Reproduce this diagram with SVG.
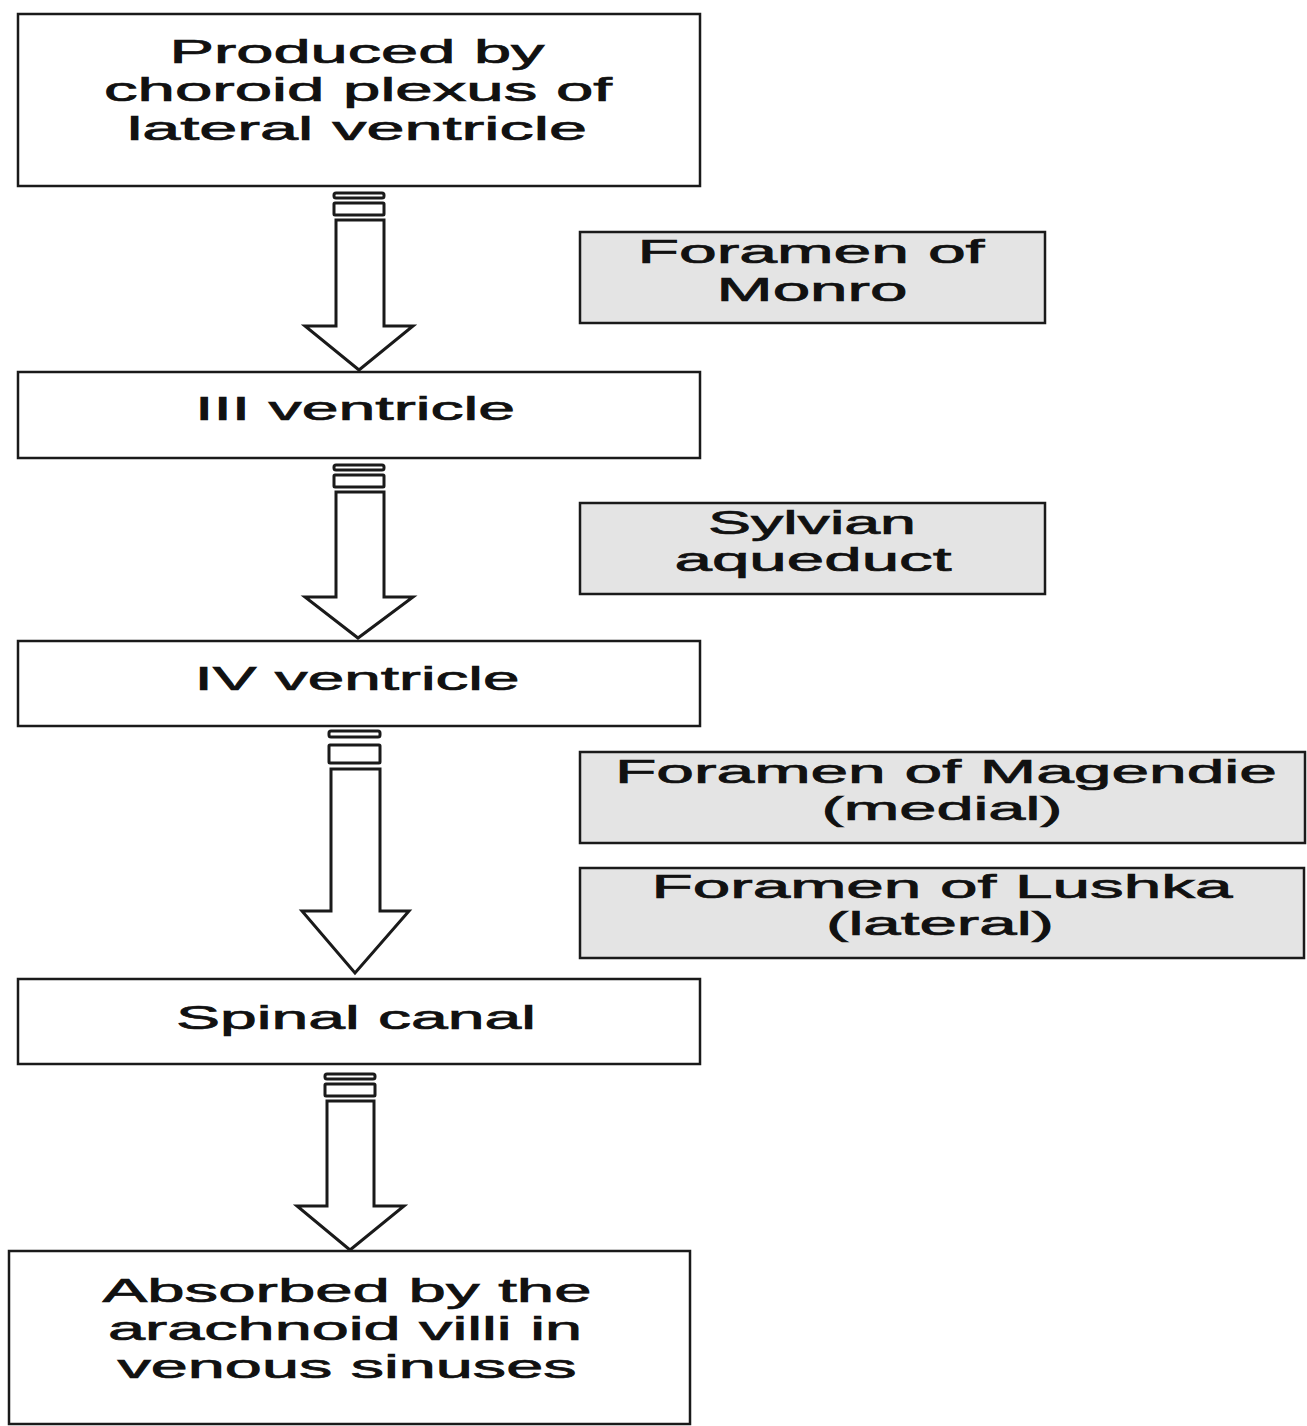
<svg xmlns="http://www.w3.org/2000/svg" width="1307" height="1426" viewBox="0 0 1307 1426">
<style>
.box{fill:#ffffff;stroke:#1a1a1a;stroke-width:2.5}
.gbox{fill:#e4e4e4;stroke:#1a1a1a;stroke-width:2.5}
.t{font-family:"Liberation Sans",Arial,sans-serif;font-size:33px;fill:#111;stroke:#111;stroke-width:0.7;text-anchor:middle}
.arr{fill:#ffffff;stroke:#1a1a1a;stroke-width:3;stroke-linejoin:miter}
.bar{fill:#ffffff;stroke:#1a1a1a;stroke-width:3}
</style>
<rect width="1307" height="1426" fill="#ffffff"/>
<g id="connectors">
  <g id="arrow1">
    <rect class="bar" x="334" y="193" width="50" height="5" rx="2"/>
    <rect class="bar" x="334" y="203" width="50" height="12" rx="1"/>
    <path class="arr" d="M336,220 H384 V326 H413 L359,370 L305,326 H336 Z"/>
  </g>
  <g id="arrow2">
    <rect class="bar" x="334" y="465" width="50" height="5" rx="2"/>
    <rect class="bar" x="334" y="475" width="50" height="12" rx="1"/>
    <path class="arr" d="M336,492 H384 V597 H413 L358,638 L305,597 H336 Z"/>
  </g>
  <g id="arrow3">
    <rect class="bar" x="329" y="731" width="51" height="6" rx="2"/>
    <rect class="bar" x="329" y="745" width="51" height="18" rx="1"/>
    <path class="arr" d="M331,769 H380 V911 H409 L355,973 L302,911 H331 Z"/>
  </g>
  <g id="arrow4">
    <rect class="bar" x="325" y="1074" width="50" height="5" rx="2"/>
    <rect class="bar" x="325" y="1084" width="50" height="12" rx="1"/>
    <path class="arr" d="M327,1101 H374 V1206 H404 L350,1250 L297,1206 H327 Z"/>
  </g>
</g>
<g id="n1">
  <rect class="box" x="18" y="14" width="682" height="172"/>
  <text class="t" x="357" y="63" textLength="375" lengthAdjust="spacingAndGlyphs">Produced by</text>
  <text class="t" x="358" y="101" textLength="508" lengthAdjust="spacingAndGlyphs">choroid plexus of</text>
  <text class="t" x="357" y="140" textLength="460" lengthAdjust="spacingAndGlyphs">lateral ventricle</text>
</g>
<g id="n2">
  <rect class="gbox" x="580" y="232" width="465" height="91"/>
  <text class="t" x="811" y="263" textLength="347" lengthAdjust="spacingAndGlyphs">Foramen of</text>
  <text class="t" x="812" y="301" textLength="191" lengthAdjust="spacingAndGlyphs">Monro</text>
</g>
<g id="n3">
  <rect class="box" x="18" y="372" width="682" height="86"/>
  <text class="t" x="355" y="420" textLength="320" lengthAdjust="spacingAndGlyphs">III ventricle</text>
</g>
<g id="n4">
  <rect class="gbox" x="580" y="503" width="465" height="91"/>
  <text class="t" x="812" y="534" textLength="208" lengthAdjust="spacingAndGlyphs">Sylvian</text>
  <text class="t" x="813" y="571" textLength="277" lengthAdjust="spacingAndGlyphs">aqueduct</text>
</g>
<g id="n5">
  <rect class="box" x="18" y="641" width="682" height="85"/>
  <text class="t" x="357" y="690" textLength="325" lengthAdjust="spacingAndGlyphs">IV ventricle</text>
</g>
<g id="n6">
  <rect class="gbox" x="580" y="752" width="725" height="91"/>
  <text class="t" x="946" y="783" textLength="662" lengthAdjust="spacingAndGlyphs">Foramen of Magendie</text>
  <text class="t" x="942" y="820" textLength="241" lengthAdjust="spacingAndGlyphs">(medial)</text>
</g>
<g id="n7">
  <rect class="gbox" x="580" y="868" width="724" height="90"/>
  <text class="t" x="942" y="898" textLength="581" lengthAdjust="spacingAndGlyphs">Foramen of Lushka</text>
  <text class="t" x="940" y="935" textLength="228" lengthAdjust="spacingAndGlyphs">(lateral)</text>
</g>
<g id="n8">
  <rect class="box" x="18" y="979" width="682" height="85"/>
  <text class="t" x="356" y="1029" textLength="360" lengthAdjust="spacingAndGlyphs">Spinal canal</text>
</g>
<g id="n9">
  <rect class="box" x="9" y="1251" width="681" height="173"/>
  <text class="t" x="347" y="1302" textLength="489" lengthAdjust="spacingAndGlyphs">Absorbed by the</text>
  <text class="t" x="345" y="1340" textLength="474" lengthAdjust="spacingAndGlyphs">arachnoid villi in</text>
  <text class="t" x="347" y="1378" textLength="459" lengthAdjust="spacingAndGlyphs">venous sinuses</text>
</g>
</svg>
